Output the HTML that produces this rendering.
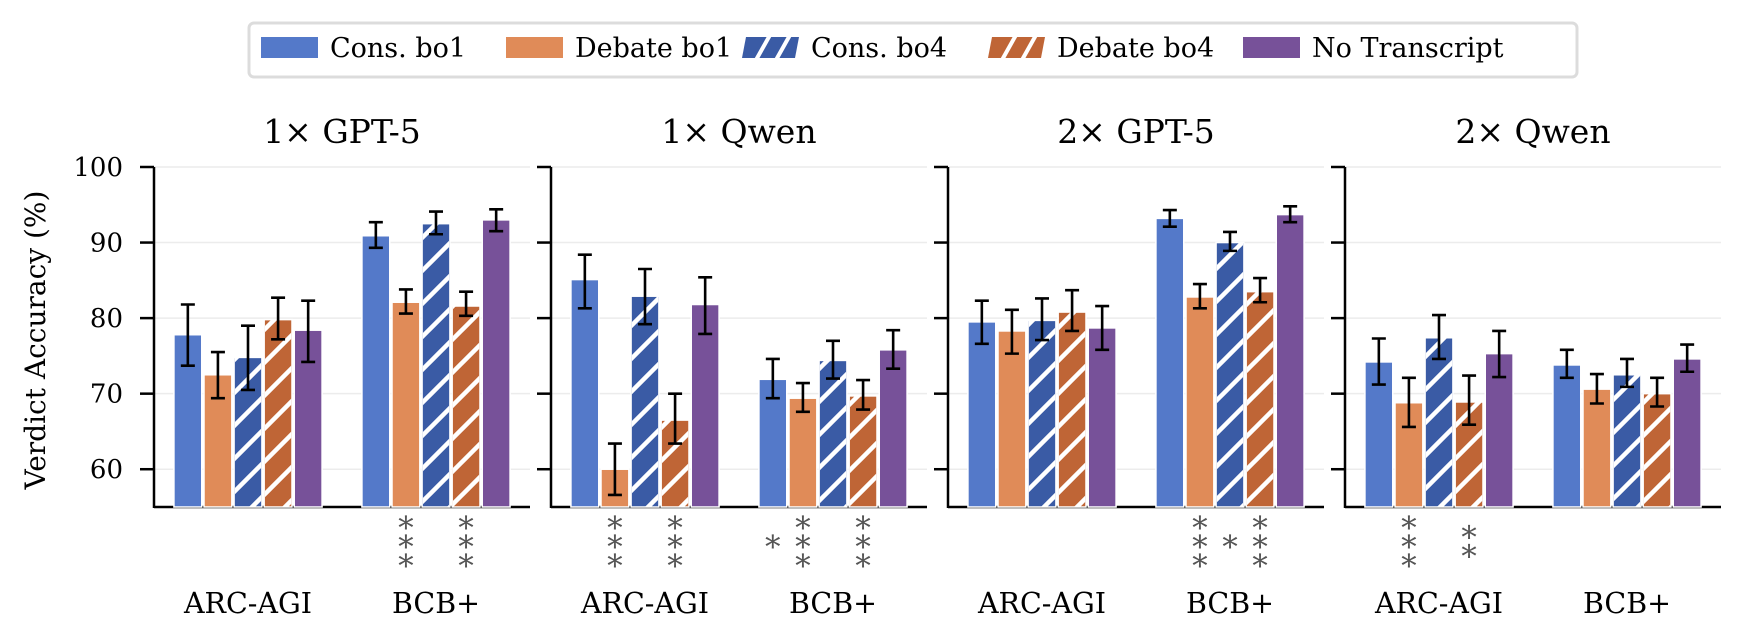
<!DOCTYPE html>
<html><head><meta charset="utf-8"><style>
html,body{margin:0;padding:0;background:#fff;}
svg{display:block;font-family:"DejaVu Serif","Liberation Serif",serif;}
</style></head><body>
<svg id="chart" width="1740" height="640" viewBox="0 0 1740 640" xmlns="http://www.w3.org/2000/svg">
<defs>
<pattern id="hatch" patternUnits="userSpaceOnUse" width="33" height="33">
<path d="M-4,37 L37,-4 M-4,4 L4,-4 M29,37 L37,29" stroke="#fff" stroke-width="4.5"/>
</pattern>
</defs>
<g id="legend">
<rect x="249" y="23" width="1328" height="54" rx="5" fill="#fff" stroke="#dcdcdc" stroke-width="3"/>
</g>
<g id="plots"></g>
<text transform="translate(45,340) rotate(-90)" text-anchor="middle" font-size="28" fill="#000">Verdict Accuracy (%)</text>
</svg>
<script>
const panels = ["1× GPT-5", "1× Qwen", "2× GPT-5", "2× Qwen"];
const categories = ["ARC-AGI", "BCB+"];
const seriesNames = ["Cons. bo1", "Debate bo1", "Cons. bo4", "Debate bo4", "No Transcript"];
const yTicks = [60, 70, 80, 90, 100];
// values[panel][category]
const consBo1 = [[77.8, 90.9], [85.1, 71.9], [79.5, 93.2], [74.2, 73.8]];
const debateBo1 = [[72.5, 82.1], [60.0, 69.4], [78.3, 82.8], [68.8, 70.6]];
const consBo4 = [[74.8, 92.5], [82.9, 74.4], [79.7, 90.0], [77.4, 72.5]];
const debateBo4 = [[79.8, 81.6], [66.5, 69.7], [80.8, 83.5], [68.9, 70.0]];
const noTranscript = [[78.4, 93.0], [81.8, 75.8], [78.7, 93.7], [75.3, 74.6]];
const errLow = [
 [[73.7, 69.4, 70.5, 77.2, 74.2], [89.3, 80.6, 91.1, 80.3, 91.5]],
 [[81.3, 56.6, 79.2, 63.4, 77.9], [69.4, 67.6, 72.0, 67.9, 73.3]],
 [[76.6, 75.3, 77.1, 78.3, 75.8], [92.1, 81.3, 88.9, 82.1, 92.7]],
 [[71.2, 65.6, 74.6, 65.9, 72.2], [72.1, 68.7, 70.9, 68.3, 72.9]]
];
const errHigh = [
 [[81.8, 75.5, 79.0, 82.7, 82.3], [92.7, 83.8, 94.1, 83.5, 94.4]],
 [[88.4, 63.4, 86.5, 70.0, 85.4], [74.6, 71.4, 77.0, 71.8, 78.4]],
 [[82.3, 81.1, 82.6, 83.7, 81.6], [94.3, 84.5, 91.4, 85.3, 94.8]],
 [[77.3, 72.1, 80.4, 72.4, 78.3], [75.8, 72.6, 74.6, 72.1, 76.5]]
];
// number of significance stars under each bar
const stars = [
 [[0, 0, 0, 0, 0], [0, 3, 0, 3, 0]],
 [[0, 3, 0, 3, 0], [1, 3, 0, 3, 0]],
 [[0, 0, 0, 0, 0], [0, 3, 1, 3, 0]],
 [[0, 3, 0, 2, 0], [0, 0, 0, 0, 0]]
];

const allSeries = [consBo1, debateBo1, consBo4, debateBo4, noTranscript];
const colors = ["#5479c9", "#e08b58", "#3a5ba5", "#bf6536", "#775199"];
const hatched = [false, false, true, true, false];
const NS = "http://www.w3.org/2000/svg";
const plots = document.getElementById("plots");
const legend = document.getElementById("legend");
function mk(tag, attrs, parent) {
  const e = document.createElementNS(NS, tag);
  for (const k in attrs) e.setAttribute(k, attrs[k]);
  parent.appendChild(e);
  return e;
}
const panelLeft0 = 154, panelStep = 397, panelW = 376;
const yTop = 167, yBottom = 507;
const yMin = 55, yMax = 100;
function yScale(v) { return yTop + (yMax - v) / (yMax - yMin) * (yBottom - yTop); }
function xScale(p, u) { return panelLeft0 + p * panelStep + (u + 0.5) / 2 * panelW; }
const barW = 0.16, barDraw = 0.148;

panels.forEach((title, p) => {
  const g = mk("g", {}, plots);
  
  
  const x0 = panelLeft0 + p * panelStep;
  yTicks.forEach(t => {
    const gl = mk("line", {x1: x0, x2: x0 + panelW, y1: yScale(t), y2: yScale(t), stroke: "#ececec", "stroke-width": 1.5}, g);
    
    
  });
  const bs = mk("line", {x1: x0, x2: x0 + panelW, y1: yBottom, y2: yBottom, stroke: "#000", "stroke-width": 2.5}, g);
  
  
  categories.forEach((cat, c) => {
    allSeries.forEach((ser, s) => {
      const v = ser[p][c];
      const cx = xScale(p, c + (s - 2) * barW);
      const w = barDraw / 2 * panelW;
      const yv = yScale(v);
      const r = mk("rect", {x: cx - w / 2, y: yv, width: w, height: yBottom - yv, fill: colors[s], stroke: "#fff", "stroke-width": 1.5}, g);
      
      
      if (hatched[s]) {
        const h = mk("rect", {x: cx - w / 2 + 0.75, y: yv, width: w - 1.5, height: yBottom - yv, fill: "url(#hatch)"}, g);
        
        
      }
      const lo = yScale(errLow[p][c][s]), hi = yScale(errHigh[p][c][s]);
      const eb = mk("path", {d: `M${cx},${lo}V${hi}M${cx - 7},${lo}H${cx + 7}M${cx - 7},${hi}H${cx + 7}`, stroke: "#000", "stroke-width": 2.6, fill: "none"}, g);
      
      
      const n = stars[p][c][s];
      for (let k = 0; k < n; k++) {
        const sy = 540 + (k - (n - 1) / 2) * 19;
        const st = mk("text", {x: cx, y: sy + 11, "text-anchor": "middle", "font-size": 31, fill: "#555"}, g);
        st.textContent = "∗";
        
        
      }
    });
    const cl = mk("text", {x: xScale(p, c), y: 613, "text-anchor": "middle", "font-size": 28.5, fill: "#000"}, g);
    cl.textContent = cat;
    
    
  });
  const ys = mk("line", {x1: x0, x2: x0, y1: yTop, y2: yBottom + 1, stroke: "#000", "stroke-width": 2.5}, g);
  
  
  yTicks.forEach(t => {
    const tk = mk("line", {x1: x0 - 14, x2: x0, y1: yScale(t), y2: yScale(t), stroke: "#000", "stroke-width": 2.5}, g);
    
    
    if (p === 0) {
      const tl = mk("text", {x: x0 - 31, y: yScale(t) + 9, "text-anchor": "end", "font-size": 26, fill: "#000"}, g);
      tl.textContent = t;
      
      
    }
  });
  const tt = mk("text", {x: x0 + panelW / 2, y: 143, "text-anchor": "middle", "font-size": 33, fill: "#000"}, g);
  tt.textContent = title;
  
  
});

const legendX = [261, 506, 742, 988, 1243];
seriesNames.forEach((name, s) => {
  const g = mk("g", {}, legend);
  
  
  if (hatched[s]) {
    mk("path", {d: `M${legendX[s] + 4},37 H${legendX[s] + 57} L${legendX[s] + 53},58 H${legendX[s]} Z`, fill: colors[s]}, g);
    mk("path", {d: `M${legendX[s] + 14},60 L${legendX[s] + 28},35 M${legendX[s] + 34},60 L${legendX[s] + 48},35`, stroke: "#fff", "stroke-width": 4}, g);
  } else {
    mk("rect", {x: legendX[s], y: 37, width: 57, height: 21, fill: colors[s]}, g);
  }
  const t = mk("text", {x: legendX[s] + 69, y: 57, "font-size": 27, fill: "#000"}, g);
  t.textContent = name;
});
</script>
</body></html>
